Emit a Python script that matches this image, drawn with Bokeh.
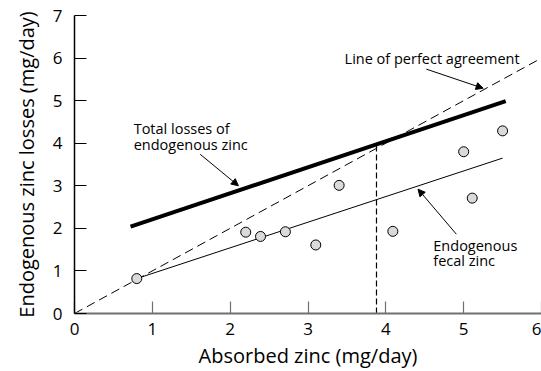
from bokeh.plotting import figure
from bokeh.models import Arrow, NormalHead, Range1d, FixedTicker
from bokeh.core.properties import value
from bokeh.embed import file_html
from bokeh.resources import INLINE

# Data
absorbed = [0.80, 2.20, 2.39, 2.71, 3.10, 3.40, 4.09, 5.00, 5.11, 5.50]
losses = [0.82, 1.91, 1.81, 1.92, 1.61, 3.01, 1.93, 3.80, 2.71, 4.29]

total_x = [0.72, 5.54]
total_y = [2.04, 4.99]
fecal_x = [0.80, 5.50]
fecal_y = [0.82, 3.65]
agree_x = [0.0, 6.0]
agree_y = [0.0, 6.0]
vert_x = [3.88, 3.88]
vert_y = [0.0, 3.97]

x_ticks = [0, 1, 2, 3, 4, 5, 6]
y_ticks = [0, 1, 2, 3, 4, 5, 6, 7]

label_x = [3.47, 0.76, 0.76, 4.61, 4.61]
label_y = [5.98, 4.34, 3.98, 1.59, 1.24]
label_text = ["Line of perfect agreement", "Total losses of", "endogenous zinc",
              "Endogenous", "fecal zinc"]

arrow_start = [(4.52, 5.74), (1.615, 3.74), (4.906, 1.864)]
arrow_end = [(5.25, 5.29), (2.106, 3.00), (4.414, 2.92)]

FONT = "Open Sans"

p = figure(width=541, height=371, output_backend="svg", toolbar_location=None,
           x_range=Range1d(0, 6), y_range=Range1d(0, 7),
           min_border_left=74, min_border_right=0, min_border_top=15, min_border_bottom=58,
           x_axis_label="Absorbed zinc (mg/day)",
           y_axis_label="Endogenous zinc losses (mg/day)")
p.outline_line_color = None
p.xgrid.visible = False
p.ygrid.visible = False
p.background_fill_color = "white"
p.border_fill_color = "white"

for ax, ticks in ((p.xaxis[0], x_ticks), (p.yaxis[0], y_ticks)):
    ax.ticker = FixedTicker(ticks=ticks)
    ax.minor_tick_line_color = None
    ax.major_tick_in = 12
    ax.major_tick_out = 0
    ax.major_tick_line_width = 1.2
    ax.major_label_text_font = FONT
    ax.major_label_text_font_size = "17px"
    ax.major_label_text_color = "black"
    ax.axis_label_text_font = FONT
    ax.axis_label_text_font_size = "20px"
    ax.axis_label_text_font_style = "normal"
    ax.axis_label_text_color = "black"

p.xaxis.axis_line_color = "#707070"
p.xaxis.axis_line_width = 2
p.xaxis.major_tick_line_color = "#707070"
p.yaxis.axis_line_color = "black"
p.yaxis.axis_line_width = 1.5
p.yaxis.major_tick_line_color = "black"

p.xaxis.major_label_standoff = 9
p.yaxis.major_label_standoff = 12
p.xaxis.axis_label_standoff = 4
p.yaxis.axis_label_standoff = 10

p.line(agree_x, agree_y, line_color="black", line_width=1, line_dash="9 5")
p.line(vert_x, vert_y, line_color="black", line_width=1.2, line_dash="6 3")
p.line(fecal_x, fecal_y, line_color="black", line_width=1)
p.line(total_x, total_y, line_color="black", line_width=4)
p.scatter(absorbed, losses, size=10, fill_color="#dadada", line_color="black", line_width=1)

p.text(x=label_x, y=label_y, text=label_text, text_font=value(FONT),
       text_font_size="14.5px", text_baseline="middle", text_align="left", text_color="black")

for (xs, ys), (xe, ye) in zip(arrow_start, arrow_end):
    p.add_layout(Arrow(end=NormalHead(size=7, fill_color="black", line_color="black", line_width=1),
                       x_start=xs, y_start=ys, x_end=xe, y_end=ye,
                       line_color="black", line_width=1))

open("out.html", "w").write(file_html(p, INLINE))
